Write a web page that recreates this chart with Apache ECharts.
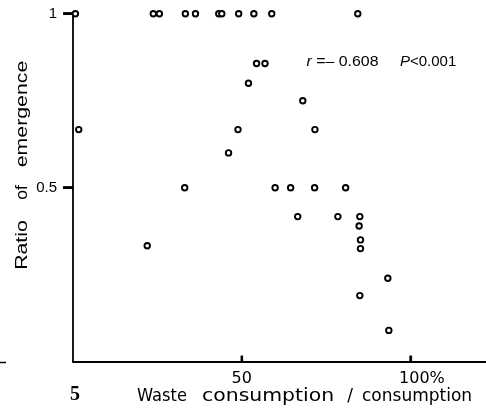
<!DOCTYPE html>
<html>
<head>
<meta charset="utf-8">
<script src="https://cdn.jsdelivr.net/npm/echarts@6/dist/echarts.min.js"></script>
<style>
html,body{margin:0;padding:0;background:#fff;}
#chart{width:486px;height:409px;}
</style>
</head>
<body>
<div id="chart"></div>
<script>
// Data
const wasteConsumption = [0.7, 1.7, 23.8, 25.6, 33.3, 36.3, 43.2, 44.1, 49.1, 53.6, 58.9, 84.4,
  54.4, 56.9, 52.0, 68.1, 48.9, 71.7, 46.1, 33.1, 59.9, 64.5, 71.6, 80.8,
  66.6, 78.5, 85.0, 84.8, 85.2, 85.2, 22.0, 93.3, 85.0, 93.6];
const emergenceRatio = [1, 0.667, 1, 1, 1, 1, 1, 1, 1, 1, 1, 1,
  0.857, 0.857, 0.8, 0.75, 0.667, 0.667, 0.6, 0.5, 0.5, 0.5, 0.5, 0.5,
  0.417, 0.417, 0.417, 0.39, 0.35, 0.325, 0.333, 0.24, 0.19, 0.09];
const xTickValues = [50, 100];
const xTickLabels = ['50', '100%'];
const yTickValues = [0.5, 1];
const yTickLabels = ['0.5', '1'];
const xAxisWords = ['Waste', 'consumption', '/', 'consumption'];
const yAxisWords = ['Ratio', 'of', 'emergence'];
const statText = ['r', ' =– 0.608', 'P', '<0.001'];

const points = wasteConsumption.map((x, i) => [x, emergenceRatio[i]]);

const baseGraphic = [
  // y-axis name
  {type: 'text', x: 23, y: 245, rotation: Math.PI / 2, scaleX: 1.33,
    style: {text: yAxisWords[0], font: '16px "Liberation Sans"', fill: '#000', textAlign: 'center', textVerticalAlign: 'middle'}},
  {type: 'text', x: 23, y: 192.5, rotation: Math.PI / 2, scaleX: 1.1,
    style: {text: yAxisWords[1], font: '16px "Liberation Sans"', fill: '#000', textAlign: 'center', textVerticalAlign: 'middle'}},
  {type: 'text', x: 23, y: 114, rotation: Math.PI / 2, scaleX: 1.33,
    style: {text: yAxisWords[2], font: '16px "Liberation Sans"', fill: '#000', textAlign: 'center', textVerticalAlign: 'middle'}},
  // x-axis name
  {type: 'text', x: 137, y: 397, scaleX: 0.96,
    style: {text: xAxisWords[0], font: '17px "DejaVu Sans"', fill: '#000', textAlign: 'left', textVerticalAlign: 'middle'}},
  {type: 'text', x: 202, y: 397, scaleX: 1.2,
    style: {text: xAxisWords[1], font: '17px "DejaVu Sans"', fill: '#000', textAlign: 'left', textVerticalAlign: 'middle'}},
  {type: 'text', x: 350, y: 397,
    style: {text: xAxisWords[2], font: '17px "DejaVu Sans"', fill: '#000', textAlign: 'center', textVerticalAlign: 'middle'}},
  {type: 'text', x: 362, y: 397, scaleX: 1.0,
    style: {text: xAxisWords[3], font: '17px "DejaVu Sans"', fill: '#000', textAlign: 'left', textVerticalAlign: 'middle'}},
  // statistics annotation
  {type: 'text', x: 306.5, y: 62, scaleX: 1.06,
    style: {text: '{i|' + statText[0] + '}' + statText[1], font: '15px "Liberation Sans"', fill: '#000', textAlign: 'left', textVerticalAlign: 'middle',
      rich: {i: {fontStyle: 'italic', fontFamily: 'Liberation Sans', fontSize: 15, fill: '#000'}}}},
  {type: 'text', x: 400, y: 62,
    style: {text: '{i|' + statText[2] + '}' + statText[3], font: '15px "Liberation Sans"', fill: '#000', textAlign: 'left', textVerticalAlign: 'middle',
      rich: {i: {fontStyle: 'italic', fontFamily: 'Liberation Sans', fontSize: 15, fill: '#000'}}}},
  // stray "5" at bottom-left
  {type: 'text', x: 75, y: 395,
    style: {text: '5', font: 'bold 20px "Liberation Serif"', fill: '#000', textAlign: 'center', textVerticalAlign: 'middle'}},
  // small stray mark at far left
  {type: 'line', shape: {x1: 0, y1: 362.5, x2: 6, y2: 362.5}, style: {stroke: '#000', lineWidth: 1.5}}
];

const chart = echarts.init(document.getElementById('chart'), null, {renderer: 'canvas'});
chart.setOption({
  animation: false,
  backgroundColor: '#fff',
  grid: {left: 73, right: 0, top: 13.7, bottom: 47.3},
  xAxis: {
    type: 'value', min: 0, max: 122.4,
    splitLine: {show: false},
    axisLine: {show: true, onZero: false, lineStyle: {color: '#000', width: 1.8}},
    axisTick: {show: true, inside: true, length: 6, customValues: xTickValues, lineStyle: {color: '#000', width: 2.2}},
    axisLabel: {
      customValues: xTickValues, margin: 9, color: '#000',
      fontFamily: 'DejaVu Sans', fontSize: 16,
      formatter: v => {
        const idx = xTickValues.indexOf(v);
        const t = idx >= 0 ? xTickLabels[idx] : '';
        return v === 100 ? '{p|' + t + '}' : t;
      },
      rich: {p: {fontFamily: 'DejaVu Sans', fontSize: 16, color: '#000', padding: [0, 0, 0, 23]}}
    }
  },
  yAxis: {
    type: 'value', min: 0, max: 1, interval: 0.5,
    splitLine: {show: false},
    axisLine: {show: true, onZero: false, lineStyle: {color: '#000', width: 1.8}},
    axisTick: {show: true, inside: false, length: 10, customValues: yTickValues, lineStyle: {color: '#000', width: 2.5}},
    axisLabel: {
      customValues: yTickValues, margin: 16, color: '#000',
      fontFamily: 'Liberation Sans', fontSize: 15,
      formatter: v => {
        const idx = yTickValues.indexOf(v);
        return idx >= 0 ? yTickLabels[idx] : '';
      }
    }
  },
  series: [
    {
      type: 'scatter',
      data: points,
      symbol: 'circle',
      symbolSize: 5.5,
      itemStyle: {color: '#fff', borderColor: '#000', borderWidth: 1.9, opacity: 1},
      clip: false
    }
  ],
  graphic: baseGraphic
});

// Tick marks placed through the chart's own scales
const tickGraphic = [];
yTickValues.forEach(v => {
  const p = chart.convertToPixel({gridIndex: 0}, [0, v]);
  tickGraphic.push({type: 'line', z: 10, shape: {x1: p[0] - 10, y1: p[1], x2: p[0], y2: p[1]}, style: {stroke: '#000', lineWidth: 2.5}});
});
xTickValues.forEach(v => {
  const p = chart.convertToPixel({gridIndex: 0}, [v, 0]);
  tickGraphic.push({type: 'line', z: 10, shape: {x1: p[0], y1: p[1], x2: p[0], y2: p[1] - 6}, style: {stroke: '#000', lineWidth: 2.2}});
});
chart.setOption({graphic: baseGraphic.concat(tickGraphic)});
</script>
</body>
</html>
